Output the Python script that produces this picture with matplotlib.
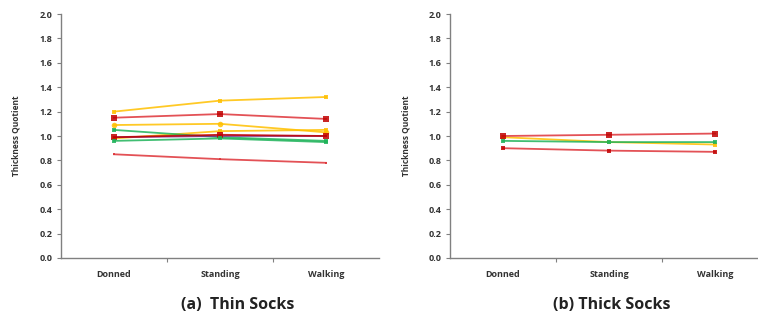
import matplotlib
matplotlib.use('Agg')
import matplotlib.pyplot as plt

plt.rcParams['font.family'] = ['Open Sans', 'DejaVu Sans']

# Categories
stages = ['Donned', 'Standing', 'Walking']

# (a) Thin socks - thickness quotient per participant
thin_yellow_1 = [1.20, 1.29, 1.32]
thin_red_1 = [1.15, 1.18, 1.14]
thin_yellow_2 = [1.09, 1.10, 1.03]
thin_yellow_3 = [0.98, 1.04, 1.05]
thin_green_1 = [1.05, 0.99, 0.96]
thin_purple = [0.99, 1.00, 1.00]
thin_darkred = [0.99, 1.01, 1.00]
thin_green_2 = [0.96, 0.98, 0.95]
thin_red_2 = [0.85, 0.81, 0.78]

# (b) Thick socks
thick_red_1 = [1.00, 1.01, 1.02]
thick_yellow = [0.99, 0.95, 0.93]
thick_green = [0.96, 0.95, 0.95]
thick_red_2 = [0.90, 0.88, 0.87]

RED = '#DE3338'
DARKRED = '#C00000'
YELLOW = '#FFC000'
GREEN = '#1FB35A'
PURPLE = '#7B2D8E'

# (values, line colour, marker, marker size, marker colour)
thin_series = [
    (thin_yellow_1, YELLOW, 's', 2.5, YELLOW),
    (thin_red_1, RED, 's', 4, DARKRED),
    (thin_yellow_2, YELLOW, 'o', 4, YELLOW),
    (thin_yellow_3, YELLOW, 's', 2.5, YELLOW),
    (thin_green_1, GREEN, 's', 3, GREEN),
    (thin_purple, PURPLE, None, 0, PURPLE),
    (thin_darkred, DARKRED, 's', 4, DARKRED),
    (thin_green_2, GREEN, 's', 3.5, GREEN),
    (thin_red_2, RED, 's', 2, RED),
]
thick_series = [
    (thick_yellow, YELLOW, 's', 2.5, YELLOW),
    (thick_green, GREEN, 's', 3, GREEN),
    (thick_red_1, RED, 's', 4, DARKRED),
    (thick_red_2, RED, 's', 2.5, DARKRED),
]

fig = plt.figure(figsize=(7.58, 3.2), dpi=100)
ax1 = fig.add_axes([0.0805, 0.194, 0.4195, 0.762])
ax2 = fig.add_axes([0.5937, 0.194, 0.4195, 0.762])

xpos = [0.5, 1.5, 2.5]
axis_col = '#808080'

for ax, series, lx in [(ax1, thin_series, 0.021), (ax2, thick_series, 0.536)]:
    for vals, col, mk, ms, mc in series:
        ax.plot(xpos, vals, color=col, lw=1.3, alpha=0.85,
                marker=mk, markersize=ms, markeredgewidth=0, markerfacecolor=mc)
    ax.set_xlim(0, 3)
    ax.set_ylim(0, 2.0)
    ax.set_yticks([i * 0.2 for i in range(11)])
    ax.set_yticklabels([f'{i * 0.2:.1f}' for i in range(11)])
    ax.set_xticks([1, 2], minor=False)
    ax.set_xticklabels([])
    ax.set_xticks(xpos, minor=True)
    ax.set_xticklabels(stages, minor=True)
    ax.tick_params(axis='x', which='minor', length=0, pad=9)
    ax.tick_params(axis='x', which='major', length=3, color=axis_col, direction='out')
    ax.tick_params(axis='y', length=3, color=axis_col, direction='out', pad=3)
    for lab in ax.get_xticklabels(minor=True) + ax.get_yticklabels():
        lab.set_fontsize(6.5)
        lab.set_fontweight('bold')
        lab.set_color('#333333')
    for s in ['top', 'right']:
        ax.spines[s].set_visible(False)
    for s in ['left', 'bottom']:
        ax.spines[s].set_color(axis_col)
        ax.spines[s].set_linewidth(1.0)
    fig.text(lx, 0.575, 'Thickness Quotient', rotation=90, fontsize=6,
             fontweight='bold', color='#333333', ha='center', va='center')

fig.text(0.313, 0.047, '(a)  Thin Socks', fontsize=11.5, fontweight='bold',
         ha='center', va='center', color='#222222')
fig.text(0.807, 0.047, '(b) Thick Socks', fontsize=11.5, fontweight='bold',
         ha='center', va='center', color='#222222')

fig.savefig('out.png', dpi=100, facecolor='white')
